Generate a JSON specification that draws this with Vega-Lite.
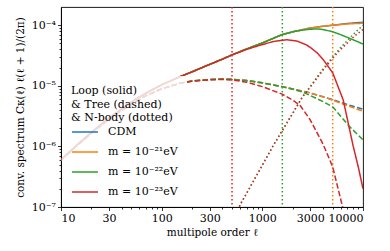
{
  "$schema": "https://vega.github.io/schema/vega-lite/v6.json",
  "autosize": "none",
  "width": 302,
  "height": 200,
  "padding": {"left": 61, "top": 7, "right": 27, "bottom": 44},
  "config": {
    "font": "DejaVu Serif",
    "view": {"stroke": "#000", "strokeWidth": 0.9},
    "axis": {"grid": false, "domainColor": "#000", "tickColor": "#000", "labelColor": "#000", "titleColor": "#000", "labelFont": "DejaVu Serif", "titleFont": "DejaVu Serif", "labelFontSize": 11, "titleFontSize": 10.5, "titleFontWeight": "normal", "domainWidth": 0.9, "tickWidth": 0.8, "labelOverlap": false, "labelBound": false}
  },
  "datasets": {
    "curves": [
      {"m": "CDM", "k": "loop", "l": 10, "v": 6.0e-7}, {"m": "CDM", "k": "loop", "l": 15, "v": 1.12e-6}, {"m": "CDM", "k": "loop", "l": 20, "v": 1.7e-6}, {"m": "CDM", "k": "loop", "l": 30, "v": 2.95e-6}, {"m": "CDM", "k": "loop", "l": 50, "v": 5.4e-6}, {"m": "CDM", "k": "loop", "l": 70, "v": 7.6e-6}, {"m": "CDM", "k": "loop", "l": 100, "v": 1.04e-5}, {"m": "CDM", "k": "loop", "l": 150, "v": 1.4e-5}, {"m": "CDM", "k": "loop", "l": 200, "v": 1.7e-5}, {"m": "CDM", "k": "loop", "l": 300, "v": 2.26e-5}, {"m": "CDM", "k": "loop", "l": 400, "v": 2.75e-5}, {"m": "CDM", "k": "loop", "l": 500, "v": 3.24e-5}, {"m": "CDM", "k": "loop", "l": 700, "v": 4.07e-5}, {"m": "CDM", "k": "loop", "l": 1000, "v": 5.1e-5}, {"m": "CDM", "k": "loop", "l": 1570, "v": 7.0e-5}, {"m": "CDM", "k": "loop", "l": 2000, "v": 7.8e-5}, {"m": "CDM", "k": "loop", "l": 3000, "v": 9.0e-5}, {"m": "CDM", "k": "loop", "l": 4000, "v": 9.6e-5}, {"m": "CDM", "k": "loop", "l": 5000, "v": 1.0e-4}, {"m": "CDM", "k": "loop", "l": 7000, "v": 1.07e-4}, {"m": "CDM", "k": "loop", "l": 10000, "v": 1.12e-4},
      {"m": "CDM", "k": "tree", "l": 10, "v": 6.0e-7}, {"m": "CDM", "k": "tree", "l": 15, "v": 1.1e-6}, {"m": "CDM", "k": "tree", "l": 20, "v": 1.65e-6}, {"m": "CDM", "k": "tree", "l": 30, "v": 2.85e-6}, {"m": "CDM", "k": "tree", "l": 50, "v": 5.0e-6}, {"m": "CDM", "k": "tree", "l": 70, "v": 6.9e-6}, {"m": "CDM", "k": "tree", "l": 100, "v": 8.9e-6}, {"m": "CDM", "k": "tree", "l": 150, "v": 1.1e-5}, {"m": "CDM", "k": "tree", "l": 200, "v": 1.2e-5}, {"m": "CDM", "k": "tree", "l": 300, "v": 1.27e-5}, {"m": "CDM", "k": "tree", "l": 400, "v": 1.29e-5}, {"m": "CDM", "k": "tree", "l": 500, "v": 1.28e-5}, {"m": "CDM", "k": "tree", "l": 700, "v": 1.22e-5}, {"m": "CDM", "k": "tree", "l": 1000, "v": 1.12e-5}, {"m": "CDM", "k": "tree", "l": 1570, "v": 9.7e-6}, {"m": "CDM", "k": "tree", "l": 2000, "v": 8.9e-6}, {"m": "CDM", "k": "tree", "l": 3000, "v": 7.6e-6}, {"m": "CDM", "k": "tree", "l": 4000, "v": 6.6e-6}, {"m": "CDM", "k": "tree", "l": 5000, "v": 5.9e-6}, {"m": "CDM", "k": "tree", "l": 7000, "v": 4.9e-6}, {"m": "CDM", "k": "tree", "l": 10000, "v": 4.1e-6},

      {"m": "m = 10⁻²¹eV", "k": "loop", "l": 10, "v": 6.0e-7}, {"m": "m = 10⁻²¹eV", "k": "loop", "l": 15, "v": 1.12e-6}, {"m": "m = 10⁻²¹eV", "k": "loop", "l": 20, "v": 1.7e-6}, {"m": "m = 10⁻²¹eV", "k": "loop", "l": 30, "v": 2.95e-6}, {"m": "m = 10⁻²¹eV", "k": "loop", "l": 50, "v": 5.4e-6}, {"m": "m = 10⁻²¹eV", "k": "loop", "l": 70, "v": 7.6e-6}, {"m": "m = 10⁻²¹eV", "k": "loop", "l": 100, "v": 1.04e-5}, {"m": "m = 10⁻²¹eV", "k": "loop", "l": 150, "v": 1.4e-5}, {"m": "m = 10⁻²¹eV", "k": "loop", "l": 200, "v": 1.7e-5}, {"m": "m = 10⁻²¹eV", "k": "loop", "l": 300, "v": 2.26e-5}, {"m": "m = 10⁻²¹eV", "k": "loop", "l": 400, "v": 2.75e-5}, {"m": "m = 10⁻²¹eV", "k": "loop", "l": 500, "v": 3.24e-5}, {"m": "m = 10⁻²¹eV", "k": "loop", "l": 700, "v": 4.07e-5}, {"m": "m = 10⁻²¹eV", "k": "loop", "l": 1000, "v": 5.1e-5}, {"m": "m = 10⁻²¹eV", "k": "loop", "l": 1570, "v": 7.0e-5}, {"m": "m = 10⁻²¹eV", "k": "loop", "l": 2000, "v": 7.8e-5}, {"m": "m = 10⁻²¹eV", "k": "loop", "l": 3000, "v": 9.0e-5}, {"m": "m = 10⁻²¹eV", "k": "loop", "l": 4000, "v": 9.6e-5}, {"m": "m = 10⁻²¹eV", "k": "loop", "l": 5000, "v": 1.0e-4}, {"m": "m = 10⁻²¹eV", "k": "loop", "l": 7000, "v": 1.05e-4}, {"m": "m = 10⁻²¹eV", "k": "loop", "l": 10000, "v": 1.08e-4},
      {"m": "m = 10⁻²¹eV", "k": "tree", "l": 10, "v": 6.0e-7}, {"m": "m = 10⁻²¹eV", "k": "tree", "l": 15, "v": 1.1e-6}, {"m": "m = 10⁻²¹eV", "k": "tree", "l": 20, "v": 1.65e-6}, {"m": "m = 10⁻²¹eV", "k": "tree", "l": 30, "v": 2.85e-6}, {"m": "m = 10⁻²¹eV", "k": "tree", "l": 50, "v": 5.0e-6}, {"m": "m = 10⁻²¹eV", "k": "tree", "l": 70, "v": 6.9e-6}, {"m": "m = 10⁻²¹eV", "k": "tree", "l": 100, "v": 8.9e-6}, {"m": "m = 10⁻²¹eV", "k": "tree", "l": 150, "v": 1.1e-5}, {"m": "m = 10⁻²¹eV", "k": "tree", "l": 200, "v": 1.2e-5}, {"m": "m = 10⁻²¹eV", "k": "tree", "l": 300, "v": 1.27e-5}, {"m": "m = 10⁻²¹eV", "k": "tree", "l": 400, "v": 1.29e-5}, {"m": "m = 10⁻²¹eV", "k": "tree", "l": 500, "v": 1.28e-5}, {"m": "m = 10⁻²¹eV", "k": "tree", "l": 700, "v": 1.22e-5}, {"m": "m = 10⁻²¹eV", "k": "tree", "l": 1000, "v": 1.12e-5}, {"m": "m = 10⁻²¹eV", "k": "tree", "l": 1570, "v": 9.7e-6}, {"m": "m = 10⁻²¹eV", "k": "tree", "l": 2000, "v": 8.9e-6}, {"m": "m = 10⁻²¹eV", "k": "tree", "l": 3000, "v": 7.6e-6}, {"m": "m = 10⁻²¹eV", "k": "tree", "l": 4000, "v": 6.6e-6}, {"m": "m = 10⁻²¹eV", "k": "tree", "l": 5000, "v": 5.8e-6}, {"m": "m = 10⁻²¹eV", "k": "tree", "l": 7000, "v": 4.7e-6}, {"m": "m = 10⁻²¹eV", "k": "tree", "l": 10000, "v": 3.8e-6},

      {"m": "m = 10⁻²²eV", "k": "loop", "l": 10, "v": 6.0e-7}, {"m": "m = 10⁻²²eV", "k": "loop", "l": 15, "v": 1.12e-6}, {"m": "m = 10⁻²²eV", "k": "loop", "l": 20, "v": 1.7e-6}, {"m": "m = 10⁻²²eV", "k": "loop", "l": 30, "v": 2.95e-6}, {"m": "m = 10⁻²²eV", "k": "loop", "l": 50, "v": 5.4e-6}, {"m": "m = 10⁻²²eV", "k": "loop", "l": 70, "v": 7.6e-6}, {"m": "m = 10⁻²²eV", "k": "loop", "l": 100, "v": 1.04e-5}, {"m": "m = 10⁻²²eV", "k": "loop", "l": 150, "v": 1.4e-5}, {"m": "m = 10⁻²²eV", "k": "loop", "l": 200, "v": 1.7e-5}, {"m": "m = 10⁻²²eV", "k": "loop", "l": 300, "v": 2.26e-5}, {"m": "m = 10⁻²²eV", "k": "loop", "l": 400, "v": 2.75e-5}, {"m": "m = 10⁻²²eV", "k": "loop", "l": 500, "v": 3.24e-5}, {"m": "m = 10⁻²²eV", "k": "loop", "l": 700, "v": 4.07e-5}, {"m": "m = 10⁻²²eV", "k": "loop", "l": 1000, "v": 5.1e-5}, {"m": "m = 10⁻²²eV", "k": "loop", "l": 1570, "v": 7.0e-5}, {"m": "m = 10⁻²²eV", "k": "loop", "l": 2000, "v": 7.8e-5}, {"m": "m = 10⁻²²eV", "k": "loop", "l": 2500, "v": 8.3e-5}, {"m": "m = 10⁻²²eV", "k": "loop", "l": 3000, "v": 8.6e-5}, {"m": "m = 10⁻²²eV", "k": "loop", "l": 3500, "v": 8.7e-5}, {"m": "m = 10⁻²²eV", "k": "loop", "l": 4000, "v": 8.5e-5}, {"m": "m = 10⁻²²eV", "k": "loop", "l": 5000, "v": 7.8e-5}, {"m": "m = 10⁻²²eV", "k": "loop", "l": 6000, "v": 7.0e-5}, {"m": "m = 10⁻²²eV", "k": "loop", "l": 7000, "v": 6.3e-5}, {"m": "m = 10⁻²²eV", "k": "loop", "l": 8500, "v": 5.5e-5}, {"m": "m = 10⁻²²eV", "k": "loop", "l": 10000, "v": 4.9e-5},
      {"m": "m = 10⁻²²eV", "k": "tree", "l": 10, "v": 6.0e-7}, {"m": "m = 10⁻²²eV", "k": "tree", "l": 15, "v": 1.1e-6}, {"m": "m = 10⁻²²eV", "k": "tree", "l": 20, "v": 1.65e-6}, {"m": "m = 10⁻²²eV", "k": "tree", "l": 30, "v": 2.85e-6}, {"m": "m = 10⁻²²eV", "k": "tree", "l": 50, "v": 5.0e-6}, {"m": "m = 10⁻²²eV", "k": "tree", "l": 70, "v": 6.9e-6}, {"m": "m = 10⁻²²eV", "k": "tree", "l": 100, "v": 8.9e-6}, {"m": "m = 10⁻²²eV", "k": "tree", "l": 150, "v": 1.1e-5}, {"m": "m = 10⁻²²eV", "k": "tree", "l": 200, "v": 1.2e-5}, {"m": "m = 10⁻²²eV", "k": "tree", "l": 300, "v": 1.27e-5}, {"m": "m = 10⁻²²eV", "k": "tree", "l": 400, "v": 1.29e-5}, {"m": "m = 10⁻²²eV", "k": "tree", "l": 500, "v": 1.28e-5}, {"m": "m = 10⁻²²eV", "k": "tree", "l": 700, "v": 1.22e-5}, {"m": "m = 10⁻²²eV", "k": "tree", "l": 1000, "v": 1.12e-5}, {"m": "m = 10⁻²²eV", "k": "tree", "l": 1570, "v": 9.7e-6}, {"m": "m = 10⁻²²eV", "k": "tree", "l": 2000, "v": 8.8e-6}, {"m": "m = 10⁻²²eV", "k": "tree", "l": 2500, "v": 7.9e-6}, {"m": "m = 10⁻²²eV", "k": "tree", "l": 3000, "v": 6.9e-6}, {"m": "m = 10⁻²²eV", "k": "tree", "l": 4000, "v": 5.5e-6}, {"m": "m = 10⁻²²eV", "k": "tree", "l": 5000, "v": 4.5e-6}, {"m": "m = 10⁻²²eV", "k": "tree", "l": 7400, "v": 2.1e-6}, {"m": "m = 10⁻²²eV", "k": "tree", "l": 10000, "v": 1.28e-6},
      {"m": "m = 10⁻²²eV", "k": "nbody", "l": 500, "v": 5.0e-8}, {"m": "m = 10⁻²²eV", "k": "nbody", "l": 600, "v": 1.08e-7}, {"m": "m = 10⁻²²eV", "k": "nbody", "l": 700, "v": 1.7e-7}, {"m": "m = 10⁻²²eV", "k": "nbody", "l": 1000, "v": 4.9e-7}, {"m": "m = 10⁻²²eV", "k": "nbody", "l": 1300, "v": 1.07e-6}, {"m": "m = 10⁻²²eV", "k": "nbody", "l": 1570, "v": 1.8e-6}, {"m": "m = 10⁻²²eV", "k": "nbody", "l": 2000, "v": 3.5e-6}, {"m": "m = 10⁻²²eV", "k": "nbody", "l": 2500, "v": 6.6e-6}, {"m": "m = 10⁻²²eV", "k": "nbody", "l": 3000, "v": 9.8e-6}, {"m": "m = 10⁻²²eV", "k": "nbody", "l": 4000, "v": 1.9e-5}, {"m": "m = 10⁻²²eV", "k": "nbody", "l": 5000, "v": 3.0e-5}, {"m": "m = 10⁻²²eV", "k": "nbody", "l": 6000, "v": 4.3e-5}, {"m": "m = 10⁻²²eV", "k": "nbody", "l": 7000, "v": 5.6e-5}, {"m": "m = 10⁻²²eV", "k": "nbody", "l": 8320, "v": 7.5e-5}, {"m": "m = 10⁻²²eV", "k": "nbody", "l": 10000, "v": 1.0e-4},

      {"m": "m = 10⁻²³eV", "k": "loop", "l": 10, "v": 6.0e-7}, {"m": "m = 10⁻²³eV", "k": "loop", "l": 15, "v": 1.12e-6}, {"m": "m = 10⁻²³eV", "k": "loop", "l": 20, "v": 1.7e-6}, {"m": "m = 10⁻²³eV", "k": "loop", "l": 30, "v": 2.95e-6}, {"m": "m = 10⁻²³eV", "k": "loop", "l": 50, "v": 5.4e-6}, {"m": "m = 10⁻²³eV", "k": "loop", "l": 70, "v": 7.6e-6}, {"m": "m = 10⁻²³eV", "k": "loop", "l": 100, "v": 1.04e-5}, {"m": "m = 10⁻²³eV", "k": "loop", "l": 150, "v": 1.4e-5}, {"m": "m = 10⁻²³eV", "k": "loop", "l": 200, "v": 1.7e-5}, {"m": "m = 10⁻²³eV", "k": "loop", "l": 300, "v": 2.26e-5}, {"m": "m = 10⁻²³eV", "k": "loop", "l": 400, "v": 2.75e-5}, {"m": "m = 10⁻²³eV", "k": "loop", "l": 500, "v": 3.24e-5}, {"m": "m = 10⁻²³eV", "k": "loop", "l": 700, "v": 4.0e-5}, {"m": "m = 10⁻²³eV", "k": "loop", "l": 1000, "v": 4.8e-5}, {"m": "m = 10⁻²³eV", "k": "loop", "l": 1300, "v": 5.4e-5}, {"m": "m = 10⁻²³eV", "k": "loop", "l": 1740, "v": 5.76e-5}, {"m": "m = 10⁻²³eV", "k": "loop", "l": 2200, "v": 5.5e-5}, {"m": "m = 10⁻²³eV", "k": "loop", "l": 2700, "v": 4.8e-5}, {"m": "m = 10⁻²³eV", "k": "loop", "l": 3000, "v": 4.3e-5}, {"m": "m = 10⁻²³eV", "k": "loop", "l": 3500, "v": 3.5e-5}, {"m": "m = 10⁻²³eV", "k": "loop", "l": 4030, "v": 2.7e-5}, {"m": "m = 10⁻²³eV", "k": "loop", "l": 5000, "v": 1.64e-5}, {"m": "m = 10⁻²³eV", "k": "loop", "l": 6350, "v": 5.9e-6}, {"m": "m = 10⁻²³eV", "k": "loop", "l": 7000, "v": 2.8e-6}, {"m": "m = 10⁻²³eV", "k": "loop", "l": 8000, "v": 1.0e-6}, {"m": "m = 10⁻²³eV", "k": "loop", "l": 9000, "v": 4.5e-7}, {"m": "m = 10⁻²³eV", "k": "loop", "l": 10000, "v": 2.0e-7},
      {"m": "m = 10⁻²³eV", "k": "tree", "l": 10, "v": 6.0e-7}, {"m": "m = 10⁻²³eV", "k": "tree", "l": 15, "v": 1.1e-6}, {"m": "m = 10⁻²³eV", "k": "tree", "l": 20, "v": 1.65e-6}, {"m": "m = 10⁻²³eV", "k": "tree", "l": 30, "v": 2.85e-6}, {"m": "m = 10⁻²³eV", "k": "tree", "l": 50, "v": 5.0e-6}, {"m": "m = 10⁻²³eV", "k": "tree", "l": 70, "v": 6.9e-6}, {"m": "m = 10⁻²³eV", "k": "tree", "l": 100, "v": 8.9e-6}, {"m": "m = 10⁻²³eV", "k": "tree", "l": 150, "v": 1.1e-5}, {"m": "m = 10⁻²³eV", "k": "tree", "l": 200, "v": 1.19e-5}, {"m": "m = 10⁻²³eV", "k": "tree", "l": 300, "v": 1.26e-5}, {"m": "m = 10⁻²³eV", "k": "tree", "l": 400, "v": 1.27e-5}, {"m": "m = 10⁻²³eV", "k": "tree", "l": 500, "v": 1.25e-5}, {"m": "m = 10⁻²³eV", "k": "tree", "l": 700, "v": 1.15e-5}, {"m": "m = 10⁻²³eV", "k": "tree", "l": 1000, "v": 9.7e-6}, {"m": "m = 10⁻²³eV", "k": "tree", "l": 1570, "v": 7.3e-6}, {"m": "m = 10⁻²³eV", "k": "tree", "l": 2000, "v": 5.8e-6}, {"m": "m = 10⁻²³eV", "k": "tree", "l": 2360, "v": 4.8e-6}, {"m": "m = 10⁻²³eV", "k": "tree", "l": 2970, "v": 2.8e-6}, {"m": "m = 10⁻²³eV", "k": "tree", "l": 4000, "v": 1.1e-6}, {"m": "m = 10⁻²³eV", "k": "tree", "l": 5000, "v": 4.6e-7}, {"m": "m = 10⁻²³eV", "k": "tree", "l": 6270, "v": 1.0e-7}, {"m": "m = 10⁻²³eV", "k": "tree", "l": 7000, "v": 3.5e-8},
      {"m": "m = 10⁻²³eV", "k": "nbody", "l": 500, "v": 5.0e-8}, {"m": "m = 10⁻²³eV", "k": "nbody", "l": 600, "v": 1.08e-7}, {"m": "m = 10⁻²³eV", "k": "nbody", "l": 700, "v": 1.7e-7}, {"m": "m = 10⁻²³eV", "k": "nbody", "l": 1000, "v": 4.9e-7}, {"m": "m = 10⁻²³eV", "k": "nbody", "l": 1300, "v": 1.07e-6}, {"m": "m = 10⁻²³eV", "k": "nbody", "l": 1570, "v": 1.8e-6}, {"m": "m = 10⁻²³eV", "k": "nbody", "l": 2000, "v": 3.5e-6}, {"m": "m = 10⁻²³eV", "k": "nbody", "l": 2500, "v": 6.5e-6}, {"m": "m = 10⁻²³eV", "k": "nbody", "l": 3000, "v": 9.6e-6}, {"m": "m = 10⁻²³eV", "k": "nbody", "l": 4000, "v": 1.8e-5}, {"m": "m = 10⁻²³eV", "k": "nbody", "l": 5000, "v": 2.85e-5}, {"m": "m = 10⁻²³eV", "k": "nbody", "l": 6000, "v": 4.0e-5}, {"m": "m = 10⁻²³eV", "k": "nbody", "l": 7000, "v": 5.1e-5}, {"m": "m = 10⁻²³eV", "k": "nbody", "l": 8320, "v": 6.7e-5}, {"m": "m = 10⁻²³eV", "k": "nbody", "l": 10000, "v": 8.5e-5}
    ],
    "marks": [
      {"m": "m = 10⁻²³eV", "l": 500},
      {"m": "m = 10⁻²²eV", "l": 1580},
      {"m": "m = 10⁻²¹eV", "l": 5000}
    ]
  },
  "layer": [
    {
      "data": {"name": "marks"},
      "mark": {"type": "rule", "strokeDash": [1.5, 2.5], "strokeWidth": 1.5},
      "encoding": {
        "x": {"field": "l", "type": "quantitative", "scale": {"type": "log", "domain": [10, 10000], "nice": false}},
        "color": {"field": "m", "type": "nominal"}
      }
    },
    {
      "data": {"name": "curves"},
      "mark": {"type": "line", "strokeWidth": 1.5, "clip": true, "strokeCap": "butt"},
      "encoding": {
        "x": {"field": "l", "type": "quantitative",
          "scale": {"type": "log", "domain": [10, 10000], "nice": false},
          "axis": {
            "title": "multipole order ℓ",
            "values": [10, 20, 30, 40, 50, 60, 70, 80, 90, 100, 200, 300, 400, 500, 600, 700, 800, 900, 1000, 2000, 3000, 4000, 5000, 6000, 7000, 8000, 9000, 10000],
            "labelExpr": "indexof([10,30,100,300,1000,3000,10000], datum.value) >= 0 ? format(datum.value, 'd') : ''",
            "tickSize": {"condition": {"test": "indexof([10,30,100,300,1000,3000,10000], datum.value) >= 0", "value": 3.5}, "value": 2},
            "labelPadding": 2,
            "titlePadding": 4
          }
        },
        "y": {"field": "v", "type": "quantitative",
          "scale": {"type": "log", "domain": [1e-7, 2e-4], "nice": false},
          "axis": {
            "title": "conv. spectrum Cκ(ℓ) ℓ(ℓ + 1)/(2π)",
            "values": [1e-7, 2e-7, 3e-7, 4e-7, 5e-7, 6e-7, 7e-7, 8e-7, 9e-7, 1e-6, 2e-6, 3e-6, 4e-6, 5e-6, 6e-6, 7e-6, 8e-6, 9e-6, 1e-5, 2e-5, 3e-5, 4e-5, 5e-5, 6e-5, 7e-5, 8e-5, 9e-5, 1e-4],
            "labelExpr": "abs(datum.value - 1e-7) < 1e-12 ? '10⁻⁷' : abs(datum.value - 1e-6) < 1e-11 ? '10⁻⁶' : abs(datum.value - 1e-5) < 1e-10 ? '10⁻⁵' : abs(datum.value - 1e-4) < 1e-9 ? '10⁻⁴' : ''",
            "tickSize": {"condition": {"test": "abs(log(datum.value)/LN10 - round(log(datum.value)/LN10)) < 0.001", "value": 3.5}, "value": 2},
            "labelPadding": 2,
            "titlePadding": 6
          }
        },
        "color": {"field": "m", "type": "nominal",
          "scale": {"domain": ["CDM", "m = 10⁻²¹eV", "m = 10⁻²²eV", "m = 10⁻²³eV"], "range": ["#1f77b4", "#ff7f0e", "#2ca02c", "#d62728"]},
          "legend": {
            "title": ["Loop (solid)", "& Tree (dashed)", "& N-body (dotted)"],
            "orient": "none", "legendX": 1, "legendY": 69,
            "fillColor": "rgba(255,255,255,0.8)", "padding": 9,
            "titleFont": "DejaVu Serif", "titleFontSize": 11, "titleFontWeight": "normal", "titleLineHeight": 13.5, "titlePadding": -5, "titleColor": "#000",
            "labelFont": "DejaVu Serif", "labelFontSize": 11, "labelColor": "#000",
            "symbolType": "stroke", "symbolSize": 676, "symbolStrokeWidth": 1.5, "labelOffset": 9, "rowPadding": 1
          }
        },
        "strokeDash": {"field": "k", "type": "nominal",
          "scale": {"domain": ["loop", "tree", "nbody"], "range": [[1, 0], [5.5, 2.4], [1.5, 2.5]]},
          "legend": null
        },
        "detail": {"field": "k"}
      }
    }
  ]
}
